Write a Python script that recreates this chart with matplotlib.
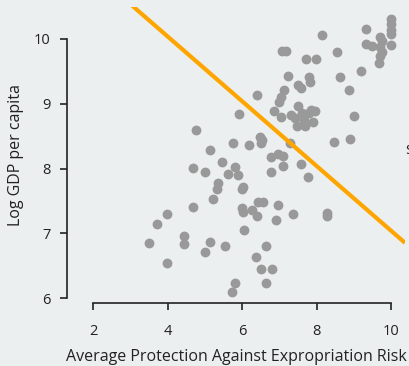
import matplotlib
matplotlib.use('Agg')
import matplotlib.pyplot as plt

plt.rcParams['font.family'] = ['Open Sans', 'DejaVu Sans']

# Expropriation risk (x) vs log GDP per capita (y)
risk = [10.00, 10.00, 10.00, 10.00, 9.33, 8.15, 9.70, 9.76, 9.33, 9.49,
        10.00, 9.70, 9.76, 9.70, 9.68, 7.07, 7.18, 8.55, 7.72, 7.99,
        9.19, 8.63, 7.23, 7.80, 7.83, 7.50, 7.58, 7.13, 8.87, 6.40,
        7.05, 6.99, 7.50, 6.86, 7.05, 7.32, 7.42, 7.61, 7.66, 7.80,
        7.85, 7.96, 7.91, 7.48, 7.69, 9.01, 5.92, 8.90, 8.47, 4.77,
        6.48, 6.54, 6.51, 5.76, 6.19, 7.29, 5.14, 5.46, 5.81, 5.62,
        5.89, 4.68, 5.01, 6.78, 6.97, 7.10, 7.10, 7.58, 6.78, 7.77,
        5.36, 5.33, 6.03, 6.00, 5.22, 4.68, 6.43, 6.56, 6.97, 6.00,
        6.03, 6.27, 6.40, 6.91, 7.37, 8.28, 8.28, 3.99, 3.72, 6.05,
        4.44, 4.44, 5.14, 3.50, 5.01, 5.54, 6.64, 3.99, 6.38, 6.51,
        6.81, 5.81, 5.73, 6.64]
loggdp = [10.31, 10.23, 10.14, 10.08, 10.15, 10.06, 10.03, 9.97, 9.92, 9.89,
          9.91, 9.88, 9.80, 9.74, 9.63, 9.81, 9.81, 9.80, 9.69, 9.69,
          9.51, 9.41, 9.43, 9.41, 9.34, 9.29, 9.24, 9.21, 9.21, 9.14,
          9.10, 9.03, 8.97, 8.89, 8.80, 8.83, 8.78, 8.86, 8.75, 8.86,
          8.90, 8.89, 8.72, 8.66, 8.66, 8.81, 8.84, 8.46, 8.41, 8.59,
          8.49, 8.44, 8.39, 8.39, 8.36, 8.39, 8.29, 8.10, 8.02, 7.92,
          7.90, 8.01, 7.95, 8.18, 8.22, 8.19, 8.04, 8.07, 7.95, 7.87,
          7.78, 7.68, 7.71, 7.68, 7.53, 7.41, 7.48, 7.48, 7.44, 7.39,
          7.33, 7.36, 7.27, 7.20, 7.30, 7.31, 7.27, 7.30, 7.14, 7.05,
          6.96, 6.83, 6.86, 6.85, 6.71, 6.80, 6.80, 6.54, 6.63, 6.45,
          6.45, 6.23, 6.09, 6.23]

# the orange line: y = intercept + slope * x
intercept = 12.04
slope = -0.5

xticks = [2, 4, 6, 8, 10]
yticks = [6, 7, 8, 9, 10]

bg = '#ebeff0'
fig = plt.figure(figsize=(4.1, 3.66), dpi=100, facecolor=bg)
ax = fig.add_axes([67 / 410, 63 / 366, 338 / 410, 296 / 366], facecolor=bg)

ax.scatter(risk, loggdp, s=50, color='#999999', linewidths=0, zorder=2)

xl = [1.30, 10.376]
ax.plot(xl, [intercept + slope * v for v in xl], color='#ffa500', lw=3, zorder=3,
        solid_capstyle='butt')

ax.set_xlim(xl)
ax.set_ylim(5.923, 10.494)

for s in ['top', 'right']:
    ax.spines[s].set_visible(False)
for s in ['left', 'bottom']:
    ax.spines[s].set_linewidth(1.2)
    ax.spines[s].set_color('#222222')
ax.spines['left'].set_bounds(6, 10)
ax.spines['bottom'].set_bounds(2, 10)

ax.set_xticks(xticks)
ax.set_yticks(yticks)
ax.tick_params(axis='both', length=5, width=1.2, color='#222222', labelsize=10.5,
               labelcolor='#222222')
ax.tick_params(axis='x', pad=10)
ax.tick_params(axis='y', pad=7)

ax.set_xlabel('Average Protection Against Expropriation Risk', fontsize=11.5,
              color='#222222', labelpad=7)
ax.set_ylabel('Log GDP per capita', fontsize=11.5, color='#222222', labelpad=7)

# clipped annotation at the right edge
fig.text(405 / 410, 1 - 152 / 366, '$', fontsize=10, color='#222222',
         ha='left', va='center')

fig.savefig('out.png', dpi=100, facecolor=bg)
